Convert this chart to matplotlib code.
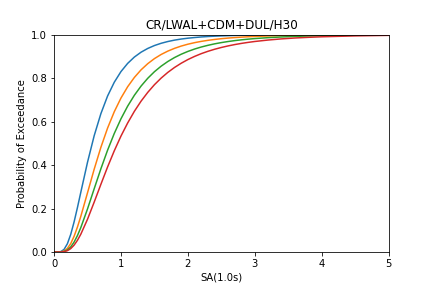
import matplotlib
matplotlib.use("Agg")
import matplotlib.pyplot as plt

# spectral acceleration values (g)
sa = [0.0, 0.05, 0.1, 0.15, 0.2, 0.25, 0.3, 0.35, 0.4, 0.5, 0.6, 0.7, 0.8, 0.9, 1.0,
      1.1, 1.2, 1.3, 1.4, 1.5, 1.6, 1.7, 1.8, 1.9, 2.0,
      2.1, 2.2, 2.3, 2.4, 2.5, 2.6, 2.7, 2.8, 2.9, 3.0,
      3.2, 3.4, 3.6, 3.8, 4.0, 4.5, 5.0]

# probability of exceedance, one list per damage state
p_slight = [0.0, 0.0, 0.0016, 0.0118, 0.0380, 0.0812, 0.1383, 0.2042, 0.2742, 0.4121, 0.5347, 0.6361, 0.7173, 0.7806, 0.8297,
            0.8674, 0.8965, 0.9189, 0.9361, 0.9495, 0.9599, 0.9680, 0.9744, 0.9794, 0.9833,
            0.9864, 0.9890, 0.9910, 0.9926, 0.9939, 0.9949, 0.9958, 0.9965, 0.9971, 0.9976,
            0.9983, 0.9988, 0.9991, 0.9994, 0.9995, 0.9998, 0.9999]
p_moderate = [0.0, 0.0, 0.0005, 0.0045, 0.0164, 0.0390, 0.0723, 0.1147, 0.1636, 0.2717, 0.3806, 0.4813, 0.5697, 0.6450, 0.7080,
              0.7600, 0.8027, 0.8377, 0.8661, 0.8894, 0.9084, 0.9239, 0.9366, 0.9471, 0.9557,
              0.9628, 0.9687, 0.9735, 0.9776, 0.9810, 0.9838, 0.9862, 0.9882, 0.9899, 0.9913,
              0.9935, 0.9952, 0.9963, 0.9972, 0.9979, 0.9989, 0.9994]
p_extensive = [0.0, 0.0, 0.0002, 0.0024, 0.0093, 0.0235, 0.0457, 0.0756, 0.1120, 0.1976, 0.2907, 0.3825, 0.4681, 0.5450, 0.6125,
               0.6708, 0.7207, 0.7630, 0.7989, 0.8292, 0.8546, 0.8761, 0.8943, 0.9096, 0.9225,
               0.9335, 0.9428, 0.9506, 0.9574, 0.9631, 0.9680, 0.9722, 0.9758, 0.9789, 0.9816,
               0.9858, 0.9890, 0.9915, 0.9933, 0.9948, 0.9970, 0.9983]
p_complete = [0.0, 0.0, 0.0001, 0.0015, 0.0060, 0.0157, 0.0315, 0.0537, 0.0815, 0.1503, 0.2293, 0.3111, 0.3909, 0.4653, 0.5331,
              0.5933, 0.6469, 0.6936, 0.7341, 0.7694, 0.7998, 0.8261, 0.8487, 0.8682, 0.8851,
              0.8996, 0.9123, 0.9231, 0.9325, 0.9407, 0.9478, 0.9540, 0.9594, 0.9641, 0.9682,
              0.9749, 0.9802, 0.9842, 0.9873, 0.9898, 0.9939, 0.9963]

fig = plt.figure(figsize=(6, 4), dpi=72)
ax = fig.add_subplot(111)
fig.subplots_adjust(left=0.125, right=0.9, bottom=0.125, top=0.88)

for p in [p_slight, p_moderate, p_extensive, p_complete]:
    ax.plot(sa, p)

ax.set_xlim(0, 5)
ax.set_ylim(0, 1)
ax.set_title("CR/LWAL+CDM+DUL/H30")
ax.set_xlabel("SA(1.0s)")
ax.set_ylabel("Probability of Exceedance")

fig.savefig("out.png", dpi=72)
